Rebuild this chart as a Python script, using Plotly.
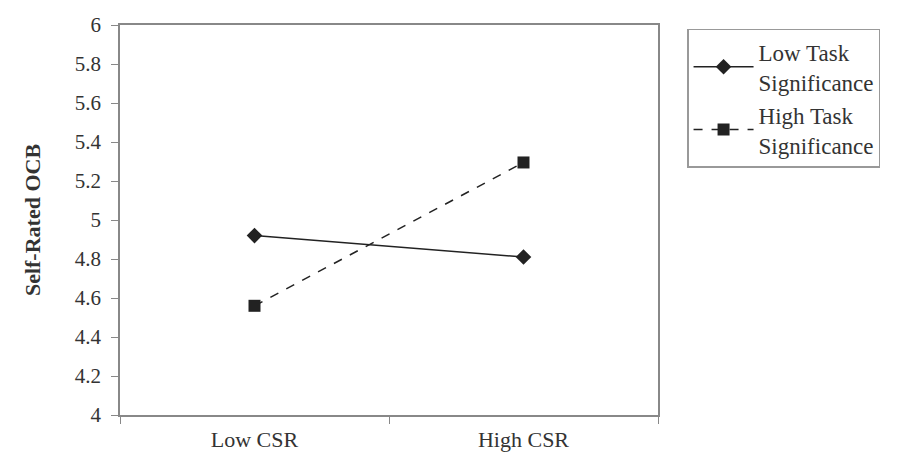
import plotly.graph_objects as go

categories = ["Low CSR", "High CSR"]
low_task = [4.92, 4.81]
high_task = [4.56, 5.295]
series_names = ["Low Task<br>Significance", "High Task<br>Significance"]
y_ticks = [4, 4.2, 4.4, 4.6, 4.8, 5, 5.2, 5.4, 5.6, 5.8, 6]

font_family = "Liberation Serif, Times New Roman, serif"

fig = go.Figure()
fig.add_trace(go.Scatter(
    x=categories, y=low_task, name=series_names[0], mode="lines+markers",
    line=dict(color="#222222", width=1.5),
    marker=dict(symbol="diamond", size=12, color="#222222"),
))
fig.add_trace(go.Scatter(
    x=categories, y=high_task, name=series_names[1], mode="lines+markers",
    line=dict(color="#222222", width=1.5, dash="dash"),
    marker=dict(symbol="square", size=12, color="#222222"),
))

fig.update_layout(
    width=895, height=464,
    margin=dict(l=112, r=245, t=17, b=57),
    paper_bgcolor="white", plot_bgcolor="white",
    font=dict(family=font_family, size=21, color="#333333"),
    showlegend=True,
    legend=dict(
        x=1.054, y=0.99, xanchor="left", yanchor="top",
        bordercolor="#999999", borderwidth=1.5,
        font=dict(family=font_family, size=23, color="#333333"),
        itemwidth=60,
        tracegroupgap=2,
    ),
    xaxis=dict(
        type="category", range=[-0.5, 1.5], automargin=False,
        showline=True, linecolor="#888888", linewidth=1.5, mirror=True,
        ticks="outside", tickson="boundaries", ticklen=7, tickcolor="#888888",
        ticklabelstandoff=4,
        showgrid=False, zeroline=False,
        tickfont=dict(family=font_family, size=22, color="#333333"),
    ),
    yaxis=dict(
        range=[4, 6], tickvals=y_ticks, ticktext=[f"{v:g}" for v in y_ticks],
        automargin=False,
        showline=True, linecolor="#888888", linewidth=1.5, mirror=True,
        ticks="outside", ticklen=7, tickcolor="#888888",
        ticklabelstandoff=6,
        showgrid=False, zeroline=False,
        tickfont=dict(family=font_family, size=21, color="#333333"),
        title=dict(text="<b>Self-Rated OCB</b>", standoff=28,
                   font=dict(family=font_family, size=22, color="#333333")),
    ),
)

fig.write_html("out.html")
